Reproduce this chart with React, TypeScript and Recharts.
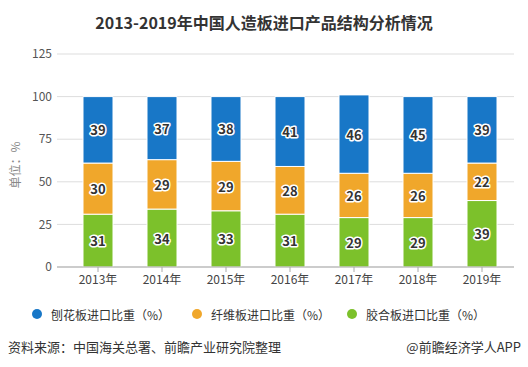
import React from 'react';
import { BarChart, Bar, XAxis, YAxis, CartesianGrid, LabelList } from 'recharts';

const years = ['2013年', '2014年', '2015年', '2016年', '2017年', '2018年', '2019年'];
const plywood = [31, 34, 33, 31, 29, 29, 39];
const fiberboard = [30, 29, 29, 28, 26, 26, 22];
const particleboard = [39, 37, 38, 41, 46, 45, 39];
const yTicks = [0, 25, 50, 75, 100, 125];

const seriesNames = ['刨花板进口比重（%）', '纤维板进口比重（%）', '胶合板进口比重（%）'];
const seriesColors = ['#1877C7', '#F0A72B', '#7CC12B'];

const FONT = '"Noto Sans CJK SC", "Noto Sans", sans-serif';

const data = years.map((year, i) => ({
    year,
    plywood: plywood[i],
    fiberboard: fiberboard[i],
    particleboard: particleboard[i],
}));

const renderLabel = (props: any) => {
    const { x, y, width, height, value } = props;
    return (
        <text
            x={x + width / 2}
            y={y + height / 2}
            textAnchor="middle"
            dominantBaseline="central"
            fontSize={13}
            fontWeight="bold"
            fontFamily={FONT}
            fill="#333"
            stroke="#fff"
            strokeWidth={3}
            strokeLinejoin="round"
            paintOrder="stroke"
        >
            {value}
        </text>
    );
};

const legendX = [37, 197, 352];

export default function App() {
    return (
        <div style={{ position: 'fixed', left: 0, top: 0, width: 528, height: 367, background: '#fff', fontFamily: FONT }}>
            <div style={{ position: 'absolute', top: 10, left: 0, width: 528, textAlign: 'center', fontSize: 16, fontWeight: 'bold', color: '#333', lineHeight: '24px' }}>
                2013-2019年中国人造板进口产品结构分析情况
            </div>
            <div style={{ position: 'absolute', left: 0, top: 0 }}>
                <BarChart
                    width={528}
                    height={367}
                    data={data}
                    margin={{ top: 54, right: 14, bottom: 70, left: 0 }}
                    barSize={30}
                >
                    <CartesianGrid vertical={false} stroke="#ddd" />
                    <XAxis
                        dataKey="year"
                        height={30}
                        padding={{ left: 9, right: 0 }}
                        axisLine={{ stroke: '#aaa' }}
                        tickLine={{ stroke: '#aaa' }}
                        tickSize={5}
                        tickMargin={3}
                        tick={{ fill: '#444', fontSize: 12, fontFamily: FONT }}
                    />
                    <YAxis
                        width={57}
                        domain={[0, 125]}
                        ticks={yTicks}
                        axisLine={false}
                        tickLine={false}
                        tickSize={0}
                        tickMargin={5}
                        tick={{ fill: '#555', fontSize: 12, fontFamily: FONT }}
                    />
                    <Bar dataKey="plywood" stackId="a" fill={seriesColors[2]} stroke="#fff" strokeWidth={1} isAnimationActive={false}>
                        <LabelList dataKey="plywood" content={renderLabel} />
                    </Bar>
                    <Bar dataKey="fiberboard" stackId="a" fill={seriesColors[1]} stroke="#fff" strokeWidth={1} isAnimationActive={false}>
                        <LabelList dataKey="fiberboard" content={renderLabel} />
                    </Bar>
                    <Bar dataKey="particleboard" stackId="a" fill={seriesColors[0]} stroke="#fff" strokeWidth={1} isAnimationActive={false}>
                        <LabelList dataKey="particleboard" content={renderLabel} />
                    </Bar>
                </BarChart>
            </div>
            <div style={{ position: 'absolute', left: 6, top: 165, transform: 'translate(-50%, -50%) rotate(-90deg)', marginLeft: 8, fontSize: 12, color: '#888', whiteSpace: 'nowrap' }}>
                单位：%
            </div>
            {seriesNames.map((name, i) => (
                <div key={name} style={{ position: 'absolute', left: legendX[i] - 5, top: 304, height: 20, display: 'flex', alignItems: 'center', fontSize: 12, color: '#333', whiteSpace: 'nowrap' }}>
                    <span style={{ display: 'inline-block', width: 10, height: 10, borderRadius: 5, background: seriesColors[i], marginRight: 9 }} />
                    {name}
                </div>
            ))}
            <div style={{ position: 'absolute', left: 8, top: 338, fontSize: 13, color: '#333', whiteSpace: 'nowrap', lineHeight: '18px' }}>
                资料来源：中国海关总署、前瞻产业研究院整理
            </div>
            <div style={{ position: 'absolute', right: 7, top: 338, fontSize: 13, color: '#333', whiteSpace: 'nowrap', lineHeight: '18px' }}>
                @前瞻经济学人APP
            </div>
        </div>
    );
}
